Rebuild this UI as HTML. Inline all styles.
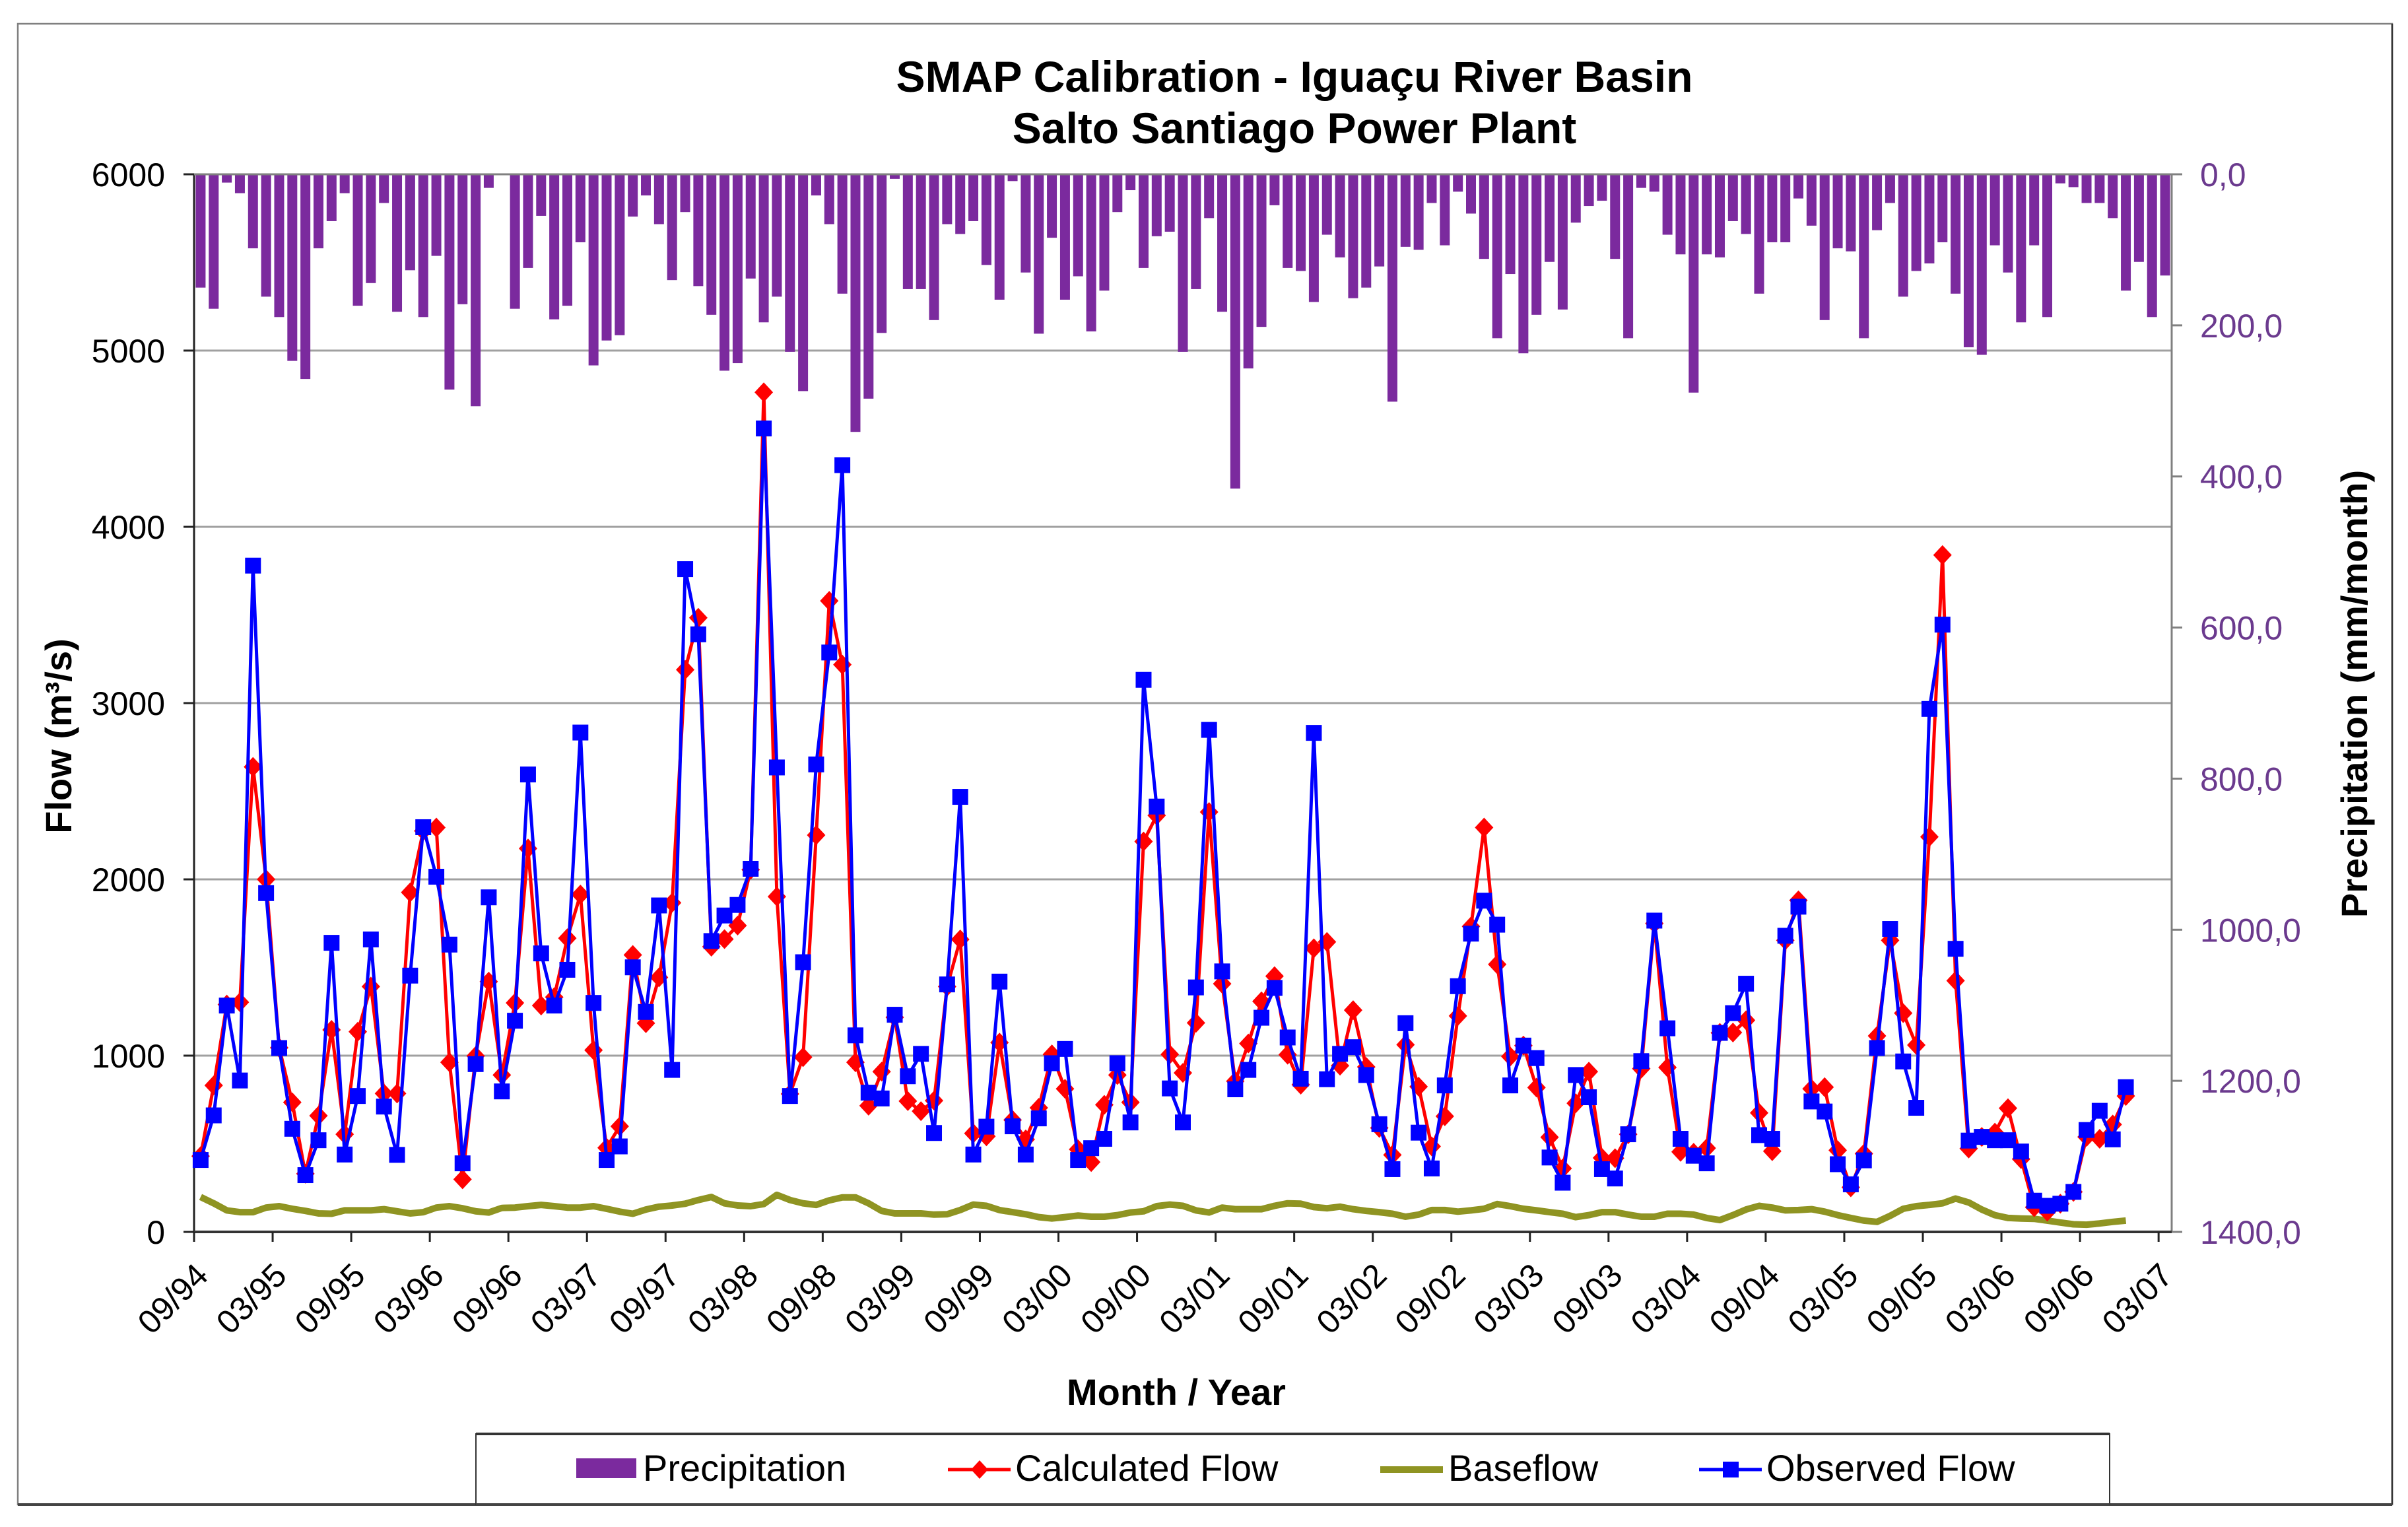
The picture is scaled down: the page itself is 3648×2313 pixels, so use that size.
<!DOCTYPE html>
<html lang="en">
<head>
<meta charset="utf-8">
<title>SMAP Calibration - Iguaçu River Basin</title>
<style>
html,body{margin:0;padding:0;background:#fff;}
svg{display:block;font-family:"Liberation Sans",Arial,sans-serif;}
</style>
</head>
<body>
<svg id="chart" xmlns="http://www.w3.org/2000/svg" width="3648" height="2313" viewBox="0 0 3648 2313">
  <rect x="0" y="0" width="3648" height="2313" fill="#ffffff"/>
  <rect x="27" y="36" width="3597" height="2243" fill="#ffffff" stroke="#808080" stroke-width="2.5"/>
  <line x1="3624" y1="36" x2="3624" y2="2279" stroke="#333333" stroke-width="2.5"/>
  <line x1="27" y1="2279" x2="3624" y2="2279" stroke="#444444" stroke-width="4"/>
  <text x="1961" y="139" font-size="66" font-weight="700" text-anchor="middle" fill="#000" textLength="1207" lengthAdjust="spacingAndGlyphs">SMAP Calibration - Iguaçu River Basin</text>
  <text x="1961" y="217" font-size="66" font-weight="700" text-anchor="middle" fill="#000">Salto Santiago Power Plant</text>
  <g id="grid"></g>
  <g id="bars"></g>
  <g id="axes"></g>
  <g id="lines"></g>
  <text transform="translate(108,1115) rotate(-90)" font-size="56" font-weight="700" text-anchor="middle" fill="#000">Flow (m³/s)</text>
  <text transform="translate(3586,1051) rotate(-90)" font-size="56" font-weight="700" text-anchor="middle" fill="#000">Precipitation (mm/month)</text>
  <text x="1782" y="2128" font-size="56" font-weight="700" text-anchor="middle" fill="#000">Month / Year</text>
  <g>
    <rect x="721" y="2172" width="2475" height="107" fill="#ffffff" stroke="#333333" stroke-width="2"/>
    <line x1="721" y1="2172" x2="3196" y2="2172" stroke="#333333" stroke-width="4"/>
    <line x1="721" y1="2279" x2="3196" y2="2279" stroke="#444444" stroke-width="4"/>
    <rect x="873" y="2209" width="91" height="30" fill="#7b2a9e"/>
    <text x="974" y="2243" font-size="56" fill="#000">Precipitation</text>
    <line x1="1436" y1="2226" x2="1531" y2="2226" stroke="#ff0000" stroke-width="5"/>
    <polygon points="1484,2212 1497,2226 1484,2240 1471,2226" fill="#ff0000"/>
    <text x="1538" y="2243" font-size="56" fill="#000">Calculated Flow</text>
    <line x1="2091" y1="2226" x2="2186" y2="2226" stroke="#8f9422" stroke-width="10"/>
    <text x="2194" y="2243" font-size="56" fill="#000">Baseflow</text>
    <line x1="2574" y1="2226" x2="2669" y2="2226" stroke="#0000ff" stroke-width="5"/>
    <rect x="2610" y="2214" width="24" height="24" fill="#0000ff"/>
    <text x="2676" y="2243" font-size="56" fill="#000">Observed Flow</text>
  </g>
</svg>
<script>
var xTickLabels = ["09/94","03/95","09/95","03/96","09/96","03/97","09/97","03/98","09/98","03/99","09/99","03/00","09/00","03/01","09/01","03/02","09/02","03/03","09/03","03/04","09/04","03/05","09/05","03/06","09/06","03/07"];
var flowTicks = [0,1000,2000,3000,4000,5000,6000];
var precipTicks = ["0,0","200,0","400,0","600,0","800,0","1000,0","1200,0","1400,0"];
var precipitation = [150,178,11,25,98,162,189,247,271,98,62,25,174,144,38,182,127,189,108,285,172,307,18,0,178,124,55,192,174,90,253,220,213,56,28,66,140,50,148,186,260,250,138,196,162,235,287,28,66,158,341,297,210,6,152,152,193,66,79,62,120,166,9,130,211,84,166,135,208,154,50,21,124,82,76,235,152,58,182,416,257,202,41,124,128,169,80,110,164,150,122,301,96,100,38,94,23,52,112,217,132,237,186,116,179,64,42,35,112,217,18,23,80,106,289,106,110,62,79,158,90,90,32,68,193,98,102,217,74,38,162,128,118,90,158,229,239,94,130,196,94,189,12,17,38,38,58,154,116,189,134];
var calculatedFlow = [430,831,1290,1303,2638,2000,1045,735,330,659,1146,554,1136,1392,785,785,1926,2275,2294,962,298,998,1420,890,1299,2175,1284,1332,1666,1914,1031,477,599,1571,1184,1444,1867,3189,3484,1618,1661,1738,2055,4763,1902,783,991,2251,3580,3218,962,716,909,1217,742,685,745,1392,1659,559,542,1074,635,525,704,1007,812,468,396,721,890,735,2215,2363,1007,902,1186,2382,1408,855,1069,1308,1451,1005,835,1609,1645,943,1258,936,590,437,1062,824,485,656,1225,1733,2294,1518,995,1057,819,537,360,730,909,420,418,554,926,1750,933,454,449,475,1129,1131,1201,675,458,1654,1881,812,821,463,253,444,1112,1654,1241,1060,2241,3840,1425,473,539,563,702,413,140,115,160,227,539,528,609,771];
var baseflow = [198,162,122,112,112,138,146,131,119,105,103,122,122,122,129,117,105,112,138,146,134,117,110,136,138,146,153,146,138,138,146,131,115,103,127,143,150,160,181,198,162,150,146,158,210,181,162,153,179,196,196,162,119,105,105,105,98,100,124,155,148,124,112,100,84,76,84,93,86,86,95,110,117,146,155,148,122,110,138,129,129,129,148,162,160,141,134,143,129,119,112,103,86,98,124,124,115,122,131,158,146,131,122,112,103,84,95,112,112,98,86,86,103,103,98,79,67,95,127,148,138,122,124,129,115,95,79,64,57,91,131,146,153,162,189,167,127,95,79,76,74,64,53,43,41,48,57,64];
var observedFlow = [408,661,1284,859,3780,1922,1043,585,322,520,1640,439,771,1659,711,437,1454,2296,2015,1630,389,952,1898,797,1198,2595,1580,1284,1487,2833,1299,408,485,1501,1248,1852,919,3760,3390,1650,1795,1855,2060,4558,2635,771,1530,2652,3287,4350,1115,790,757,1232,883,1010,561,1404,2468,439,597,1420,599,439,644,957,1038,408,475,528,957,621,3132,2413,814,621,1387,2848,1478,809,919,1215,1384,1103,869,2831,866,1010,1048,890,611,356,1184,563,360,831,1394,1692,1879,1743,831,1057,986,422,279,890,764,356,303,554,969,1766,1155,528,432,389,1129,1241,1408,549,528,1680,1845,740,683,384,270,406,1043,1719,967,704,2967,3445,1606,518,539,520,520,456,177,148,160,227,578,687,525,821];

var PLOT_LEFT = 294, PLOT_RIGHT = 3290, PLOT_TOP = 264, PLOT_BOTTOM = 1866;
var CATEGORY_COUNT = 151, FLOW_MAX = 6000, PRECIP_MAX = 1400;
var BAR_WIDTH = 15;
var SVG_NS = "http://www.w3.org/2000/svg";

function xCenter(i){ return PLOT_LEFT + (i + 0.5) * (PLOT_RIGHT - PLOT_LEFT) / CATEGORY_COUNT; }
function xEdge(i){ return PLOT_LEFT + i * (PLOT_RIGHT - PLOT_LEFT) / CATEGORY_COUNT; }
function yFlow(v){ return PLOT_BOTTOM - v / FLOW_MAX * (PLOT_BOTTOM - PLOT_TOP); }
function yPrecip(v){ return PLOT_TOP + v / PRECIP_MAX * (PLOT_BOTTOM - PLOT_TOP); }

function make(tag, attrs, parent, text){
  var el = document.createElementNS(SVG_NS, tag);
  for (var k in attrs) { el.setAttribute(k, attrs[k]); }
  if (text !== undefined) { el.textContent = text; }
  parent.appendChild(el);
  return el;
}

var gridLayer = document.getElementById("grid");
var barLayer = document.getElementById("bars");
var axisLayer = document.getElementById("axes");
var lineLayer = document.getElementById("lines");

flowTicks.forEach(function(v){
  if (v === 0) { return; }
  var g = make("line", {x1: PLOT_LEFT, x2: PLOT_RIGHT, y1: yFlow(v), y2: yFlow(v), stroke: "#a0a0a0", "stroke-width": 3}, gridLayer);
  
  
});

precipitation.forEach(function(v, i){
  var b = make("rect", {x: xCenter(i) - BAR_WIDTH / 2, y: PLOT_TOP, width: BAR_WIDTH, height: yPrecip(v) - PLOT_TOP, fill: "#7b2a9e"}, barLayer);
  
  
});

var leftAxis = make("line", {x1: PLOT_LEFT, x2: PLOT_LEFT, y1: PLOT_TOP, y2: PLOT_BOTTOM, stroke: "#222222", "stroke-width": 3}, axisLayer);


var rightAxis = make("line", {x1: PLOT_RIGHT, x2: PLOT_RIGHT, y1: PLOT_TOP, y2: PLOT_BOTTOM, stroke: "#808080", "stroke-width": 3}, axisLayer);


var topAxis = make("line", {x1: PLOT_LEFT, x2: PLOT_RIGHT, y1: PLOT_TOP, y2: PLOT_TOP, stroke: "#808080", "stroke-width": 3}, axisLayer);


var bottomAxis = make("line", {x1: PLOT_LEFT, x2: PLOT_RIGHT, y1: PLOT_BOTTOM, y2: PLOT_BOTTOM, stroke: "#333333", "stroke-width": 4}, axisLayer);



flowTicks.forEach(function(v){
  var t = make("line", {x1: PLOT_LEFT - 16, x2: PLOT_LEFT, y1: yFlow(v), y2: yFlow(v), stroke: "#222222", "stroke-width": 3}, axisLayer);
  
  
  var l = make("text", {x: 250, y: yFlow(v) + 18, "font-size": 50, "text-anchor": "end", fill: "#000"}, axisLayer, String(v));
  
  
});

precipTicks.forEach(function(label){
  var v = parseFloat(label.replace(",", "."));
  var t = make("line", {x1: PLOT_RIGHT, x2: PLOT_RIGHT + 16, y1: yPrecip(v), y2: yPrecip(v), stroke: "#808080", "stroke-width": 3}, axisLayer);
  
  
  var l = make("text", {x: 3333, y: yPrecip(v) + 18, "font-size": 50, fill: "#6b3a8e"}, axisLayer, label);
  
  
});

xTickLabels.forEach(function(label, n){
  var x = xEdge(n * 6);
  var t = make("line", {x1: x, x2: x, y1: PLOT_BOTTOM, y2: PLOT_BOTTOM + 15, stroke: "#222222", "stroke-width": 3}, axisLayer);
  
  
  var px = x + 24, py = 1935;
  var l = make("text", {transform: "translate(" + px + "," + py + ") rotate(-45)", "font-size": 50, "text-anchor": "end", fill: "#000"}, axisLayer, label);
  
  
});

function pointsFor(series){
  return series.map(function(v, i){ return xCenter(i).toFixed(1) + "," + yFlow(v).toFixed(1); }).join(" ");
}

var baseLine = make("polyline", {points: pointsFor(baseflow), fill: "none", stroke: "#8f9422", "stroke-width": 10, "stroke-linejoin": "round"}, lineLayer);



var calcLine = make("polyline", {points: pointsFor(calculatedFlow), fill: "none", stroke: "#ff0000", "stroke-width": 5, "stroke-linejoin": "round"}, lineLayer);



calculatedFlow.forEach(function(v, i){
  var cx = xCenter(i), cy = yFlow(v);
  var m = make("polygon", {points: (cx) + "," + (cy - 15) + " " + (cx + 14) + "," + cy + " " + (cx) + "," + (cy + 15) + " " + (cx - 14) + "," + cy, fill: "#ff0000"}, lineLayer);
  
  
});

var obsLine = make("polyline", {points: pointsFor(observedFlow), fill: "none", stroke: "#0000ff", "stroke-width": 5, "stroke-linejoin": "round"}, lineLayer);



observedFlow.forEach(function(v, i){
  var m = make("rect", {x: xCenter(i) - 12, y: yFlow(v) - 12, width: 24, height: 24, fill: "#0000ff"}, lineLayer);
  
  
});
</script>
</body>
</html>
